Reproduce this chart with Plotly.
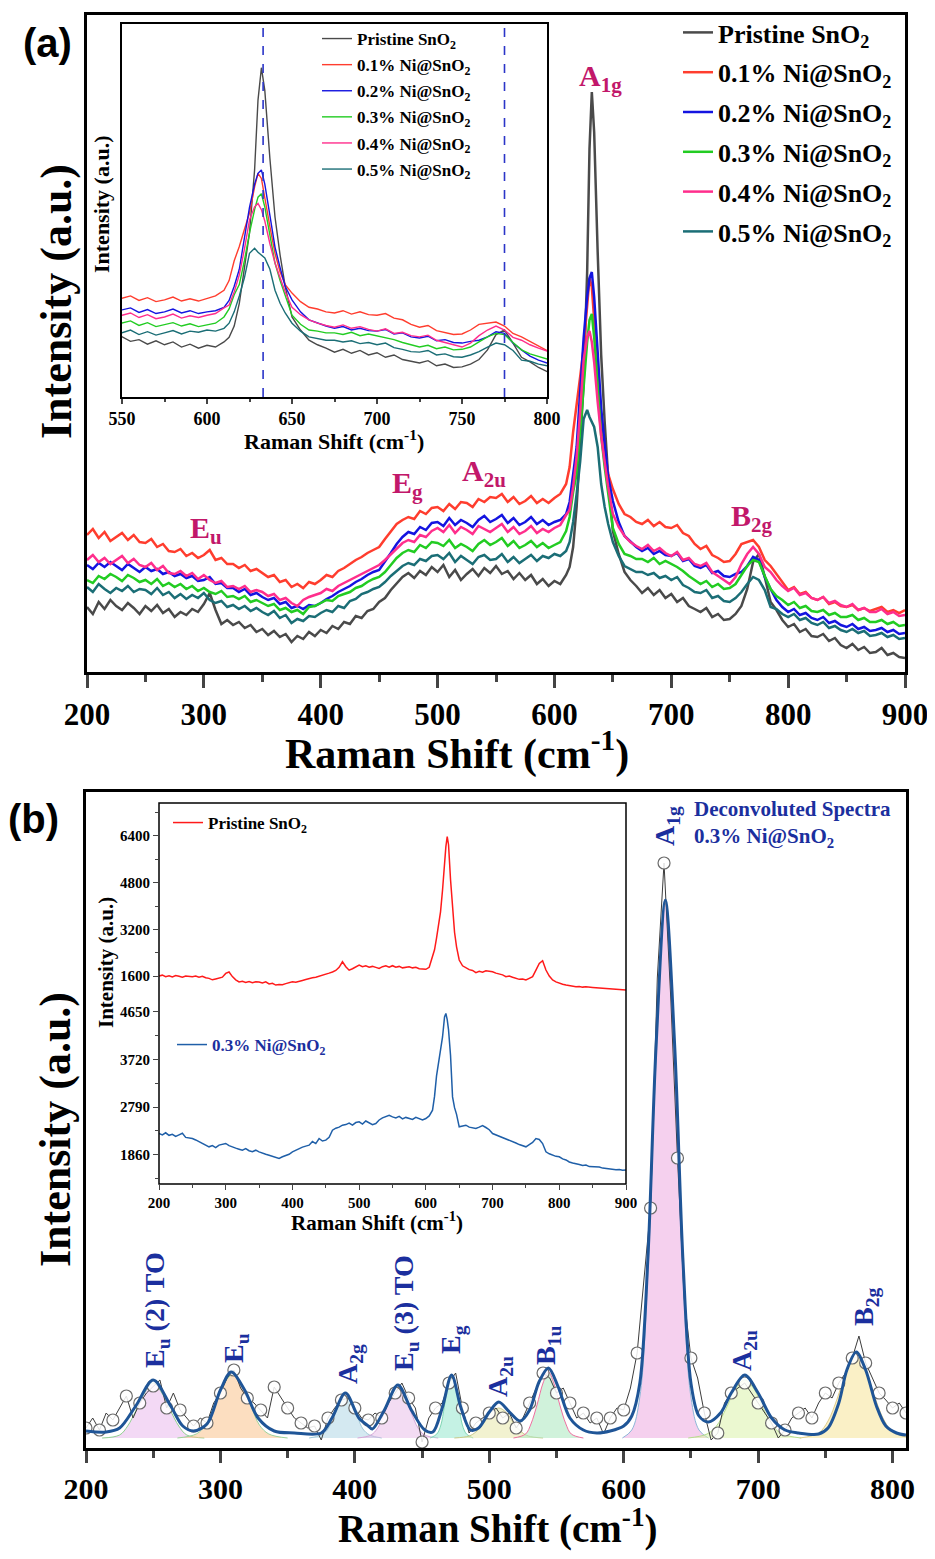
import numpy as np
import plotly.graph_objects as go

# page body adds an 8px margin, so the figure is drawn 8px in from the top-left
OFF = 8
W, H = 935 - OFF, 1559 - 2 * OFF
SERIF = "Liberation Serif"
SANS = "Liberation Sans"


def fx(px):
    return (px - OFF) / W


def fy(py):
    return 1 - (py - OFF) / H


# ---------------- panel (a): Raman spectra ----------------
shift_a = np.concatenate([
    np.arange(200, 611, 5),
    [613, 616, 619, 622, 625, 628, 630, 632, 634, 637, 640, 643, 646],
    np.arange(650, 901, 5),
])

pristine = [
    65, 58, 70, 63, 72, 66, 62, 69, 64, 58,
    66, 61, 67, 59, 63, 55, 60, 57, 63, 60,
    68, 79, 62, 48, 52, 47, 50, 44, 47, 40,
    43, 37, 41, 35, 38, 30, 36, 33, 40, 36,
    42, 39, 46, 43, 50, 48, 56, 54, 61, 63,
    70, 74, 82, 88, 95, 99, 94, 101, 97, 105,
    100, 107, 95, 102, 92, 98, 103, 96, 104, 99,
    106, 98, 101, 93, 99, 92, 97, 88, 93, 86,
    91, 88, 97,
    105, 125, 165, 225, 289, 400, 523, 580, 540, 420, 317, 250, 195,
    141, 118, 100, 92, 86, 79, 84, 77, 82, 74,
    78, 70, 74, 66, 63, 60, 64, 55, 58, 52,
    53, 58, 66, 83, 110, 118, 95, 70, 62, 52,
    45, 48, 40, 43, 36, 35, 38, 31, 34, 27,
    24, 28, 22, 25, 19, 20, 24, 17, 19, 15,
    14]

ni_01 = [
    137, 143, 134, 140, 131, 135, 139, 132, 137, 130,
    129, 133, 125, 128, 121, 120, 123, 116, 119, 114,
    117, 122, 112, 114, 108, 108, 104, 107, 101, 103,
    99, 95, 97, 90, 92, 85, 88, 84, 90, 88,
    92, 97, 95, 101, 104, 108, 112, 115, 119, 122,
    125, 133, 141, 148, 152, 155, 153, 161, 158, 164,
    165, 161, 168, 163, 170, 169, 165, 173, 170, 175,
    174, 178, 170, 175, 168, 171, 176, 169, 173, 169,
    174, 178, 188,
    205, 240, 265, 295, 324, 370, 394, 385, 350, 300, 253, 220, 198,
    183, 168, 158, 155, 150, 148, 152, 146, 150, 145,
    144, 147, 139, 136, 128, 123, 126, 117, 114, 110,
    111, 118, 128, 130, 132, 125, 112, 106, 98, 90,
    82, 85, 78, 80, 74, 72, 75, 68, 70, 66,
    65, 67, 62, 64, 61, 63, 65, 60, 62, 59,
    62]

ni_02 = [
    107, 103, 109, 105, 110, 106, 102, 108, 104, 100,
    105, 101, 103, 98, 100, 96, 98, 94, 96, 91,
    92, 95, 88, 89, 84, 84, 80, 83, 77, 79,
    75, 72, 74, 68, 70, 64, 66, 63, 67, 66,
    69, 73, 76, 80, 83, 86, 90, 93, 97, 100,
    102, 110, 119, 128, 135, 140, 138, 145, 142, 149,
    150, 146, 154, 147, 152, 149, 145, 152, 156, 150,
    153, 157, 149, 154, 147, 150, 155, 148, 152, 147,
    150, 152, 158,
    170, 195, 225, 280, 334, 375, 394, 400, 375, 320, 264, 228, 195,
    171, 150, 136, 130, 125, 121, 124, 118, 121, 117,
    116, 119, 111, 113, 106, 104, 107, 99, 101, 96,
    95, 98, 100, 106, 115, 112, 95, 83, 72, 65,
    60, 63, 57, 59, 54, 52, 55, 49, 51, 47,
    45, 48, 43, 45, 41, 42, 44, 40, 42, 38,
    39]

ni_03 = [
    92, 89, 96, 93, 98, 95, 91, 97, 94, 90,
    92, 88, 93, 86, 89, 85, 88, 83, 86, 81,
    84, 80, 78, 81, 75, 76, 73, 76, 70, 72,
    69, 66, 68, 62, 64, 60, 62, 58, 65, 66,
    69, 72, 71, 76, 78, 80, 84, 86, 90, 93,
    95, 100, 107, 114, 119, 122, 120, 127, 124, 130,
    129, 126, 132, 124, 128, 125, 121, 128, 132, 127,
    130, 134, 126, 131, 124, 127, 131, 125, 129, 124,
    127, 130, 141,
    155, 180, 198, 240, 289, 330, 352, 358, 335, 285, 236, 205, 178,
    144, 128, 118, 116, 113, 113, 110, 114, 108, 111,
    108, 105, 101, 96, 92, 88, 91, 85, 88, 83,
    84, 88, 97, 106, 112, 110, 96, 83, 76, 72,
    67, 70, 64, 66, 61, 60, 62, 57, 59, 55,
    55, 57, 52, 54, 50, 50, 52, 48, 50, 46,
    47]

ni_04 = [
    112, 117, 110, 114, 108, 112, 116, 109, 113, 107,
    105, 109, 102, 106, 99, 98, 101, 96, 99, 93,
    97, 92, 89, 91, 85, 86, 83, 86, 80, 82,
    80, 76, 78, 72, 74, 69, 66, 72, 75, 77,
    79, 83, 81, 86, 89, 92, 95, 98, 101, 104,
    107, 112, 118, 124, 129, 132, 130, 137, 135, 141,
    144, 140, 147, 139, 145, 142, 138, 146, 143, 140,
    144, 148, 140, 145, 138, 141, 146, 139, 143, 140,
    144, 147, 157,
    162, 185, 215, 260, 312, 335, 341, 330, 310, 270, 236, 210, 185,
    158, 145, 136, 130, 126, 123, 127, 121, 124, 119,
    116, 120, 112, 114, 108, 106, 109, 100, 96, 92,
    88, 95, 108, 118, 125, 118, 105, 100, 92, 86,
    81, 84, 77, 79, 74, 72, 75, 69, 71, 67,
    65, 68, 62, 64, 60, 60, 63, 58, 60, 56,
    57]

ni_05 = [
    85, 80, 88, 83, 79, 84, 81, 86, 80, 83,
    82, 78, 84, 77, 80, 74, 78, 73, 77, 74,
    79, 72, 69, 71, 65, 67, 63, 66, 61, 64,
    60, 57, 61, 54, 57, 49, 53, 51, 56, 55,
    59, 62, 60, 66, 64, 71, 73, 78, 80, 83,
    85, 90, 96, 101, 106, 109, 107, 113, 111, 116,
    117, 113, 119, 110, 116, 112, 108, 115, 117, 112,
    113, 118, 110, 115, 109, 113, 117, 111, 116, 114,
    118, 116, 121,
    130, 150, 178, 210, 253, 262, 255, 250, 245, 225, 188, 165, 148,
    130, 116, 106, 103, 100, 100, 97, 99, 94, 96,
    92, 95, 87, 84, 80, 79, 82, 74, 76, 71,
    70, 74, 80, 88, 95, 92, 82, 65, 63, 58,
    55, 58, 52, 54, 49, 47, 50, 44, 46, 42,
    40, 43, 39, 41, 36, 37, 39, 35, 37, 33,
    34]

series_a = [pristine, ni_01, ni_02, ni_03, ni_04, ni_05]
names_a = ["Pristine SnO<sub>2</sub>", "0.1% Ni@SnO<sub>2</sub>", "0.2% Ni@SnO<sub>2</sub>",
           "0.3% Ni@SnO<sub>2</sub>", "0.4% Ni@SnO<sub>2</sub>", "0.5% Ni@SnO<sub>2</sub>"]
colors_a = ["#4a4a4a", "#ff3d2e", "#1414e0", "#22cc22", "#ff2e8c", "#1b6e76"]
inset_marks = [633, 775]

# ---------------- panel (b) inset: raw spectra (counts) ----------------
raw_pristine = [
    1600, 1630, 1580, 1610, 1570, 1620, 1590, 1560, 1600, 1580,
    1577, 1600, 1560, 1590, 1540, 1520, 1470, 1500, 1520, 1560,
    1690, 1740, 1580, 1470, 1400, 1420, 1380, 1410, 1370, 1400,
    1394, 1360, 1400, 1330, 1350, 1290, 1310, 1300, 1340, 1370,
    1406, 1390, 1430, 1450, 1480, 1520, 1540, 1560, 1590, 1620,
    1669, 1700, 1740, 1790, 1900, 2090, 1920, 1800, 1850, 1900,
    1977, 1920, 1950, 1900, 1930, 1897, 1860, 1920, 1950, 1900,
    1954, 1900, 1930, 1880, 1910, 1920, 1880, 1900, 1850, 1830,
    1829, 1900, 2263,
    2500, 2900, 3300, 3800, 4549, 5600, 6035, 6380, 6100, 4900, 3977, 3100, 2600,
    2149, 1950, 1874, 1820, 1790, 1714, 1760, 1730, 1780, 1760,
    1749, 1700, 1680, 1640, 1577, 1600, 1560, 1520, 1486, 1500,
    1463, 1520, 1577, 1800, 2034, 2126, 1806, 1600, 1463, 1400,
    1349, 1320, 1290, 1270, 1250, 1234, 1240, 1220, 1230, 1210,
    1211, 1200, 1190, 1180, 1175, 1166, 1150, 1140, 1130, 1125,
    1120]

raw_ni_03 = [
    2276, 2250, 2290, 2240, 2260, 2220, 2250, 2280, 2200, 2190,
    2178, 2150, 2120, 2090, 2060, 2016, 2040, 2000, 2050, 2070,
    2081, 2040, 2010, 1990, 1970, 1951, 1980, 1940, 1920, 1950,
    1918, 1890, 1870, 1850, 1830, 1808, 1790, 1821, 1840, 1870,
    1918, 1950, 1990, 2010, 2030, 2048, 2120, 2080, 2178, 2130,
    2146, 2200, 2341, 2380, 2400, 2438, 2450, 2480, 2440, 2490,
    2503, 2460, 2520, 2480, 2450, 2471, 2540, 2580, 2600, 2633,
    2600, 2580, 2610, 2560, 2590, 2568, 2550, 2590, 2570, 2540,
    2568, 2620, 2731,
    3000, 3400, 3641, 3900, 4161, 4551, 4620, 4500, 4300, 3800, 2991, 2780, 2650,
    2406, 2420, 2438, 2400, 2380, 2373, 2400, 2430, 2393, 2350,
    2276, 2250, 2230, 2200, 2170, 2146, 2130, 2090, 2060, 2040,
    2016, 2060, 2100, 2178, 2159, 2080, 1918, 1880, 1850, 1830,
    1821, 1780, 1760, 1720, 1700, 1691, 1670, 1650, 1660, 1630,
    1626, 1610, 1620, 1600, 1590, 1594, 1580, 1570, 1575, 1560,
    1561]

# ---------------- panel (b): deconvoluted 0.3% Ni@SnO2 ----------------
shift_b = np.arange(200, 811, 5)
measured_b = [
    20, 30, 18, 35, 28, 40, 52, 30, 45, 55,
    62, 68, 40, 55, 38, 30, 22, 30, 25, 45,
    55, 70, 78, 60, 50, 45, 38, 30, 61, 50,
    40, 30, 25, 20, 22, 8, 30, 40, 48, 50,
    40, 30, 28, 35, 30, 45, 55, 65, 50, 40,
    6, 30, 40, 45, 65, 75, 40, 15, 25, 30,
    35, 40, 30, 35, 20, 30, 45, 60, 75, 70,
    55, 60, 45, 30, 35, 25, 30, 14, 30, 40,
    38, 60, 95, 170, 240, 470, 585, 450, 290, 150,
    90, 70, 35, 8, 15, 45, 55, 60, 65, 55,
    45, 35, 25, 10, 18, 30, 35, 40, 30, 45,
    55, 50, 65, 75, 90, 112, 85, 70, 55, 48,
    40, 45, 35]

env_shift = [200, 215, 225, 237, 250, 263, 272, 280, 290, 300,
             308, 318, 328, 340, 355, 375, 383, 393, 403, 410,
             413, 422, 432, 442, 452, 458, 465, 472, 479, 486,
             492, 500, 507, 515, 523, 530, 537, 544, 551, 560,
             570, 580, 590, 600, 606, 612, 618, 624, 631, 638,
             644, 650, 656, 663, 672, 680, 690, 700, 710, 720,
             730, 745, 752, 760, 766, 773, 780, 788, 795, 803, 810]
env_int = [17, 16, 20, 42, 68, 42, 22, 17, 24, 58,
           76, 58, 30, 17, 15, 15, 30, 55, 30, 22,
           19, 38, 63, 38, 18, 16, 40, 73, 40, 18,
           20, 36, 46, 36, 27, 38, 66, 80, 62, 30,
           18, 15, 17, 22, 32, 65, 190, 400, 548, 400,
           190, 65, 32, 26, 35, 55, 73, 55, 30, 18,
           15, 14, 20, 45, 78, 96, 78, 42, 22, 15, 13]

# fitted component peaks
peak_shift = [
    [212, 225, 231, 237, 244, 250, 256, 263, 269, 275, 288],
    [268, 282, 289, 295, 302, 309, 316, 323, 329, 336, 350],
    [366, 375, 380, 384, 389, 393, 397, 402, 406, 411, 420],
    [402, 412, 417, 422, 427, 432, 437, 442, 447, 452, 462],
    [456, 461, 464, 466.5, 469, 472, 475, 477.5, 480, 483, 488],
    [474, 485, 490, 496, 501, 507, 513, 518, 524, 529, 540],
    [518, 527, 531, 535.5, 540, 544, 548, 552.5, 557, 561, 570],
    [599, 606, 612, 618, 624, 631, 638, 644, 650, 656, 663],
    [648, 662, 669, 676, 683, 690, 697, 704, 711, 718, 732],
    [731, 745, 752, 759, 766, 773, 780, 787, 794, 801, 815],
]
peak_int = [
    [10, 13, 22, 37, 56, 65, 56, 37, 22, 13, 10],
    [10, 14, 23, 41, 63, 73, 63, 41, 23, 14, 10],
    [10, 13, 19, 31, 45, 52, 45, 31, 19, 13, 10],
    [10, 13, 20, 35, 52, 60, 52, 35, 20, 13, 10],
    [10, 14, 23, 41, 62, 72, 62, 41, 23, 14, 10],
    [10, 12, 16, 25, 35, 40, 35, 25, 16, 12, 10],
    [10, 14, 24, 43, 65, 76, 65, 43, 24, 14, 10],
    [10, 18, 51, 176, 386, 545, 386, 176, 51, 18, 10],
    [10, 14, 22, 39, 59, 68, 59, 39, 22, 14, 10],
    [10, 15, 27, 50, 78, 91, 78, 50, 27, 15, 10],
]
peak_fill = ["rgba(228,170,232,0.45)", "rgba(250,195,140,0.55)", "rgba(170,212,228,0.5)",
             "rgba(228,178,228,0.45)", "rgba(150,232,205,0.55)", "rgba(232,232,170,0.55)",
             "rgba(170,232,190,0.55)", "rgba(242,192,232,0.75)", "rgba(218,242,170,0.55)",
             "rgba(246,230,160,0.6)"]
peak_line = ["#8fd08f", "#9bd39b", "#9fc7d6", "#d7a8d7", "#7fd6b3", "#c9c98a",
             "#ef6fa0", "#8fb7d8", "#b7dd8f", "#e0cc8a"]

fig = go.Figure()

# panel (a) main + inset
for vals, name, col in zip(series_a, names_a, colors_a):
    fig.add_trace(go.Scatter(x=shift_a, y=vals, mode="lines", name=name,
                             line=dict(color=col, width=2.5), legend="legend",
                             legendgroup=name, xaxis="x", yaxis="y"))
for vals, name, col in zip(series_a, names_a, colors_a):
    fig.add_trace(go.Scatter(x=shift_a, y=vals, mode="lines", name=name,
                             line=dict(color=col, width=1.4), legend="legend2",
                             legendgroup="in_" + name, xaxis="x2", yaxis="y2"))

# panel (b) components
for xs, ys, fc, lc in zip(peak_shift, peak_int, peak_fill, peak_line):
    fig.add_trace(go.Scatter(x=xs, y=ys, mode="lines", fill="toself", fillcolor=fc,
                             line=dict(color=lc, width=1, shape="spline", smoothing=1),
                             showlegend=False, xaxis="x3", yaxis="y3"))
fig.add_trace(go.Scatter(x=shift_b, y=measured_b, mode="lines",
                         line=dict(color="#3c3c3c", width=1), showlegend=False,
                         xaxis="x3", yaxis="y3"))
fig.add_trace(go.Scatter(x=shift_b[::2], y=measured_b[::2], mode="markers",
                         marker=dict(symbol="circle", size=12, color="rgba(255,255,255,0.85)",
                                     line=dict(color="#6a6a6a", width=1.2)),
                         showlegend=False, xaxis="x3", yaxis="y3"))
fig.add_trace(go.Scatter(x=env_shift, y=env_int, mode="lines",
                         line=dict(color="#1f5597", width=3, shape="spline", smoothing=0.9),
                         showlegend=False, xaxis="x3", yaxis="y3"))

# panel (b) inset
fig.add_trace(go.Scatter(x=shift_a, y=raw_pristine, mode="lines", name="Pristine SnO<sub>2</sub>",
                         line=dict(color="#ff1a1a", width=1.5), legend="legend3",
                         xaxis="x4", yaxis="y4"))
fig.add_trace(go.Scatter(x=shift_a, y=raw_ni_03, mode="lines", name="0.3% Ni@SnO<sub>2</sub>",
                         line=dict(color="#1f5fa8", width=1.5), legend="legend4",
                         xaxis="x5", yaxis="y5"))

tick_big = dict(family=SERIF, size=31, color="black", weight="bold")
frame = dict(showline=True, linecolor="black", mirror=True, showgrid=False, zeroline=False,
             automargin=False)
plain = dict(showgrid=False, zeroline=False, automargin=False)
small = dict(family=SERIF, size=15, color="black", weight="bold")

fig.update_layout(
    width=W, height=H, margin=dict(l=0, r=0, t=0, b=0, pad=0, autoexpand=False),
    paper_bgcolor="white", plot_bgcolor="white",
    xaxis=dict(domain=[fx(87), fx(905)], range=[200, 900], anchor="y", linewidth=3,
               ticks="outside", ticklen=13, tickwidth=2.5, dtick=100, tickfont=tick_big,
               ticklabelstandoff=0,
               minor=dict(dtick=50, ticks="outside", ticklen=7, tickwidth=2.5), **frame),
    yaxis=dict(domain=[fy(672), fy(15)], range=[0, 657], anchor="x", linewidth=3,
               showticklabels=False, ticks="", **frame),
    xaxis2=dict(domain=[fx(122), fx(547)], range=[550, 800], anchor="y2", linewidth=1.5,
                ticks="outside", ticklen=5, tickwidth=1.5, dtick=50,
                tickfont=dict(family=SERIF, size=18, color="black", weight="bold"),
                minor=dict(dtick=25, ticks="outside", ticklen=3, tickwidth=1.5), **frame),
    yaxis2=dict(domain=[fy(397), fy(24)], range=[0, 657], anchor="x2", linewidth=1.5,
                showticklabels=False, ticks="", **frame),
    xaxis3=dict(domain=[fx(86), fx(906)], range=[200, 810], anchor="y3", linewidth=3,
                ticks="outside", ticklen=12, tickwidth=2.5, dtick=100,
                tickfont=dict(family=SERIF, size=30, color="black", weight="bold"),
                ticklabelstandoff=0,
                minor=dict(dtick=50, ticks="outside", ticklen=7, tickwidth=2.5), **frame),
    yaxis3=dict(domain=[fy(1448), fy(792)], range=[0, 656], anchor="x3", linewidth=3,
                showticklabels=False, ticks="", **frame),
    xaxis4=dict(domain=[fx(159), fx(626)], range=[200, 900], anchor="y4",
                showticklabels=False, ticks="", **plain),
    yaxis4=dict(domain=[fy(995), fy(803)], range=[950, 7530], anchor="x4",
                ticks="outside", ticklen=5, tickwidth=1.2, tick0=0, dtick=1600, tickfont=small,
                minor=dict(dtick=800, ticks="outside", ticklen=3, tickwidth=1.2), **plain),
    xaxis5=dict(domain=[fx(159), fx(626)], range=[200, 900], anchor="y5",
                ticks="outside", ticklen=5, tickwidth=1.2, dtick=100, tickfont=small,
                minor=dict(dtick=50, ticks="outside", ticklen=3, tickwidth=1.2), **plain),
    yaxis5=dict(domain=[fy(1184), fy(995)], range=[1290, 4980], anchor="x5",
                ticks="outside", ticklen=5, tickwidth=1.2, tick0=0, dtick=930, tickfont=small,
                minor=dict(dtick=465, ticks="outside", ticklen=3, tickwidth=1.2), **plain),
    legend=dict(x=fx(678), y=fy(9), xanchor="left", yanchor="top", traceorder="grouped",
                tracegroupgap=3, bgcolor="rgba(0,0,0,0)",
                font=dict(family=SERIF, size=26, color="black", weight="bold")),
    legend2=dict(x=fx(317), y=fy(21), xanchor="left", yanchor="top", traceorder="grouped",
                 tracegroupgap=1, bgcolor="rgba(0,0,0,0)",
                 font=dict(family=SERIF, size=17, color="black", weight="bold")),
    legend3=dict(x=fx(168), y=fy(805), xanchor="left", yanchor="top", bgcolor="rgba(0,0,0,0)",
                 font=dict(family=SERIF, size=17, color="black", weight="bold")),
    legend4=dict(x=fx(172), y=fy(1027), xanchor="left", yanchor="top", bgcolor="rgba(0,0,0,0)",
                 font=dict(family=SERIF, size=17, color="#1b2f9e", weight="bold")),
    showlegend=True,
)

shapes = [dict(type="line", xref="x2", yref="y2 domain", x0=m, x1=m, y0=0, y1=1,
               line=dict(color="#2b35c8", width=1.6, dash="dash")) for m in inset_marks]
shapes.append(dict(type="rect", xref="paper", yref="paper", x0=fx(159), x1=fx(626),
                   y0=fy(1184), y1=fy(803), line=dict(color="black", width=1.5)))
fig.update_layout(shapes=shapes)

ann = []


def text(x, y, s, size, color="black", family=SERIF, angle=0, xanchor="center", align="center"):
    ann.append(dict(x=fx(x), y=fy(y), xref="paper", yref="paper", text=s, showarrow=False,
                    textangle=angle, xanchor=xanchor, yanchor="middle", align=align,
                    font=dict(family=family, size=size, color=color, weight="bold")))


# panel labels
text(47, 43, "(a)", 40, family=SANS)
text(33, 819, "(b)", 40, family=SANS)

# axis titles
text(457, 751, "Raman Shift (cm<sup>-1</sup>)", 42)
text(56, 302, "Intensity (a.u.)", 44, angle=-90)
text(334, 440, "Raman Shift (cm<sup>-1</sup>)", 22)
text(102, 204, "Intensity (a.u.)", 22, angle=-90)
text(498, 1526, "Raman Shift (cm<sup>-1</sup>)", 39)
text(55, 1130, "Intensity (a.u.)", 44, angle=-90)
text(377, 1221, "Raman Shift (cm<sup>-1</sup>)", 21)
text(106, 963, "Intensity (a.u.)", 21, angle=-90)

# mode labels, panel (a)
crimson = "#c2186a"
for s, x, y in [("E<sub>u</sub>", 206, 530), ("E<sub>g</sub>", 407, 485),
                ("A<sub>2u</sub>", 484, 473), ("A<sub>1g</sub>", 600, 78),
                ("B<sub>2g</sub>", 752, 518)]:
    text(x, y, s, 30, color=crimson)

# mode labels, panel (b)
navy = "#1b2f9e"
for s, x, y in [("E<sub>u</sub> (2) TO", 156, 1310), ("E<sub>u</sub>", 235, 1348),
                ("A<sub>2g</sub>", 349, 1364), ("E<sub>u</sub> (3) TO", 405, 1313),
                ("E<sub>g</sub>", 452, 1340), ("A<sub>2u</sub>", 499, 1377),
                ("B<sub>1u</sub>", 547, 1346), ("A<sub>1g</sub>", 666, 826),
                ("A<sub>2u</sub>", 743, 1351), ("B<sub>2g</sub>", 865, 1307)]:
    text(x, y, s, 28, color=navy, angle=-90)

text(692, 824, "Deconvoluted Spectra<br>0.3% Ni@SnO<sub>2</sub>", 21, color=navy,
     xanchor="left", align="left")

fig.update_layout(annotations=ann)
fig.write_html("out.html")
